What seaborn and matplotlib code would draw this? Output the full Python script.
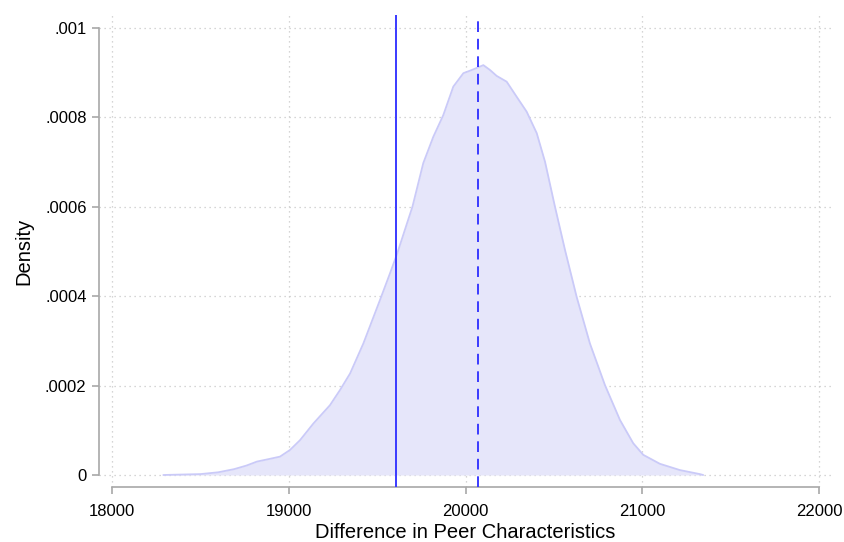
import matplotlib
matplotlib.use("Agg")
import matplotlib.pyplot as plt
import seaborn as sns
import pandas as pd

# Kernel density estimate of the simulated differences (density values)
diff_values = [18290, 18500, 18600, 18690, 18760, 18820, 18880, 18950, 19007,
               19064, 19139, 19233, 19290, 19347, 19422, 19516, 19573, 19611,
               19667, 19700, 19761, 19818, 19874, 19931, 19988, 20035, 20101,
               20139, 20176, 20233, 20290, 20346, 20403, 20450, 20506, 20563,
               20629, 20704, 20789, 20874, 20949, 21006, 21100, 21213, 21326,
               21345]
density = [0.0, 0.02e-4, 0.06e-4, 0.13e-4, 0.21e-4, 0.30e-4, 0.35e-4, 0.41e-4,
           0.56e-4, 0.78e-4, 1.15e-4, 1.56e-4, 1.90e-4, 2.27e-4, 2.94e-4,
           3.91e-4, 4.51e-4, 4.92e-4, 5.60e-4, 6.00e-4, 6.97e-4, 7.56e-4,
           8.04e-4, 8.68e-4, 8.98e-4, 9.05e-4, 9.16e-4, 9.05e-4, 8.92e-4,
           8.79e-4, 8.45e-4, 8.12e-4, 7.64e-4, 7.00e-4, 6.00e-4, 5.03e-4,
           3.98e-4, 2.94e-4, 2.01e-4, 1.23e-4, 0.71e-4, 0.45e-4, 0.25e-4,
           0.11e-4, 0.02e-4, 0.0]

observed_diff = 19608   # solid reference line
mean_diff = 20069       # dashed reference line

x_ticks = [18000, 19000, 20000, 21000, 22000]
y_ticks = [0, 0.0002, 0.0004, 0.0006, 0.0008, 0.001]
y_tick_labels = ["0", ".0002", ".0004", ".0006", ".0008", ".001"]

df = pd.DataFrame({"diff": diff_values, "density": density})

sns.set_style("white")
plt.rcParams["font.family"] = ["Liberation Sans", "DejaVu Sans"]
plt.rcParams["text.color"] = "black"
plt.rcParams["axes.labelcolor"] = "black"

fig = plt.figure(figsize=(8.44, 5.42), dpi=100)
ax = fig.add_axes([0.1173, 0.1015, 0.8685, 0.8708])

fill_col = "#e6e6fa"
edge_col = "#cacaf8"
line_col = "#3a3aff"

ax.fill_between(df["diff"], df["density"], 0, color=fill_col, lw=0, zorder=2)
sns.lineplot(data=df, x="diff", y="density", ax=ax, color=edge_col, lw=1.3,
             zorder=3, sort=True)

ax.axvline(observed_diff, color=line_col, lw=1.4, zorder=4)
ax.axvline(mean_diff, color=line_col, lw=1.4, ls=(0, (5.5, 3.5)), zorder=4)

ax.set_xlim(17926, 22074)
ax.set_ylim(-0.0000268, 0.001028)
ax.set_xticks(x_ticks)
ax.set_xticklabels([str(t) for t in x_ticks])
ax.set_yticks(y_ticks)
ax.set_yticklabels(y_tick_labels)

ax.grid(True, color="#c8c8c8", ls=(0, (1, 3)), lw=0.9, zorder=0)
ax.set_axisbelow(True)

for side in ["top", "right"]:
    ax.spines[side].set_visible(False)
for side in ["left", "bottom"]:
    ax.spines[side].set_color("#a8a8a8")
    ax.spines[side].set_linewidth(1.2)
ax.spines["left"].set_bounds(0, 0.001)
ax.spines["bottom"].set_bounds(18000, 22000)

ax.tick_params(axis="both", which="major", length=5, width=1.2,
               color="#a8a8a8", labelsize=12, labelcolor="black",
               direction="out", bottom=True, left=True)
ax.tick_params(axis="x", pad=7)
ax.tick_params(axis="y", pad=4)

ax.set_xlabel("Difference in Peer Characteristics", fontsize=14.5, labelpad=3)
ax.set_ylabel("Density", fontsize=14.5, labelpad=8)

fig.savefig("out.png", dpi=100)
